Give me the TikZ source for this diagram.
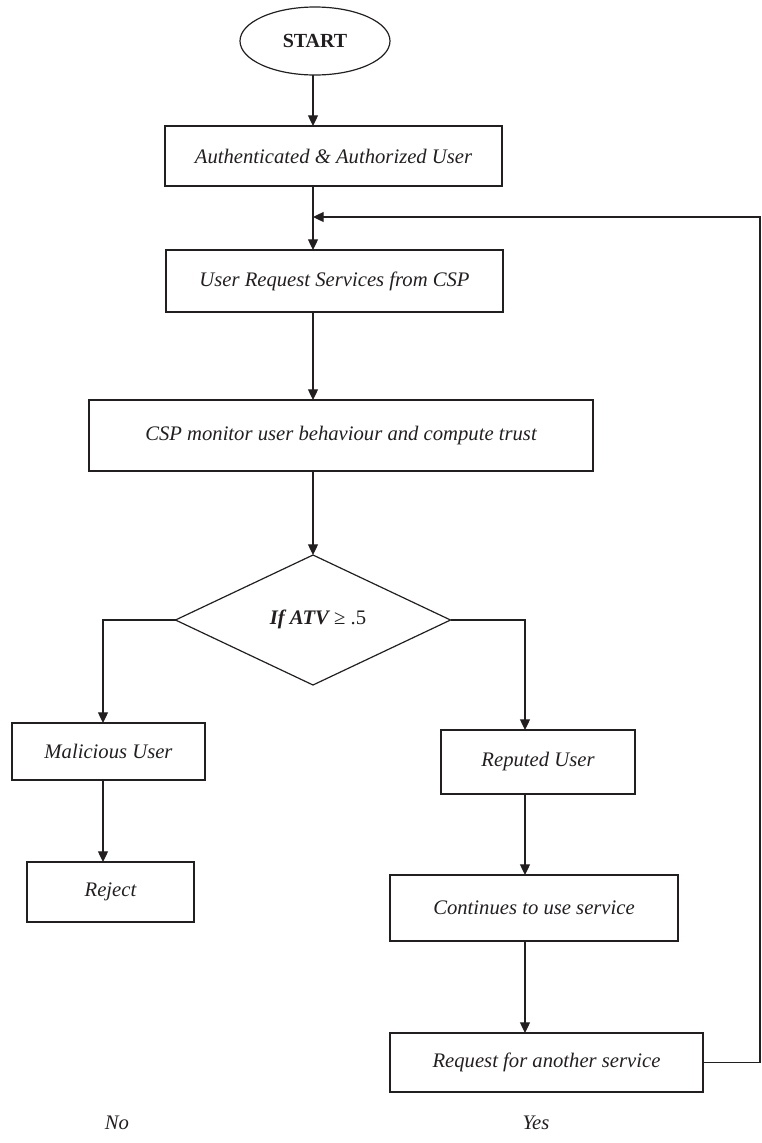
\documentclass[tikz,border=0pt]{standalone}
\usepackage{fontspec}
\setmainfont{Liberation Serif}
\usetikzlibrary{arrows.meta,shapes.geometric,calc}
\definecolor{ink}{HTML}{231F20}
\begin{document}
\begin{tikzpicture}[x=0.75pt,y=-0.75pt,
  every node/.style={inner sep=0pt,outer sep=0pt,text=ink,font=\fontsize{15.5}{18}\selectfont\itshape},
  procbox/.style 2 args={draw=ink,line width=0.9pt,rectangle,minimum width={#1*0.75pt},minimum height={#2*0.75pt}},
  conn/.style={draw=ink,line width=0.9pt},
  arr/.style={conn,-{Triangle[length=8pt,width=7.5pt]}}]
\path[use as bounding box] (0,0) rectangle (762,1143);

\node[draw=ink,line width=0.9pt,ellipse,minimum width={150*0.75pt},minimum height={68*0.75pt},font=\fontsize{15}{18}\selectfont\bfseries] (start) at (315,41) {START};
\node[procbox={337}{60}] (auth) at (333.5,156) {Authenticated \& Authorized User};
\node[procbox={337}{62}] (req) at (334.5,281) {User Request Services from CSP};
\node[procbox={504}{71}] (csp) at (341,435.5) {CSP monitor user behaviour and compute trust};
\node[draw=ink,line width=0.9pt,diamond,minimum width={275*0.75pt},minimum height={130*0.75pt}] (dec) at (313,620) {};
\node (cond) at (318,619) {\textbf{If ATV} \upshape ≥ .5};
\node[procbox={193}{57}] (mal) at (108.5,751.5) {Malicious User};
\node[procbox={167}{60}] (rej) at (110.5,892) {Reject};
\node[procbox={194}{64}] (rep) at (538,762) {Reputed User};
\node[procbox={288}{66}] (cont) at (534,908) {Continues to use service};
\node[procbox={313}{59}] (reqa) at (546.5,1062.5) {Request for another service};
\node (no) at (117,1123) {No};
\node (yes) at (536,1123) {Yes};

\coordinate (sp) at (313,0);
\coordinate (lx) at (103,0);
\coordinate (rx) at (525,0);
\coordinate (fb) at (760,217);

\draw[arr] (start.south -| sp) -- (auth.north -| sp);
\draw[arr] (auth.south -| sp) -- (req.north -| sp);
\draw[arr] (req.south -| sp) -- (csp.north -| sp);
\draw[arr] (csp.south -| sp) -- (dec.north);
\draw[arr] (dec.west) -| (mal.north -| lx);
\draw[arr] (mal.south -| lx) -- (rej.north -| lx);
\draw[arr] (dec.east) -| (rep.north -| rx);
\draw[arr] (rep.south -| rx) -- (cont.north -| rx);
\draw[arr] (cont.south -| rx) -- (reqa.north -| rx);
\draw[arr] (reqa.east) -| (fb) -- (sp |- fb);
\end{tikzpicture}
\end{document}
